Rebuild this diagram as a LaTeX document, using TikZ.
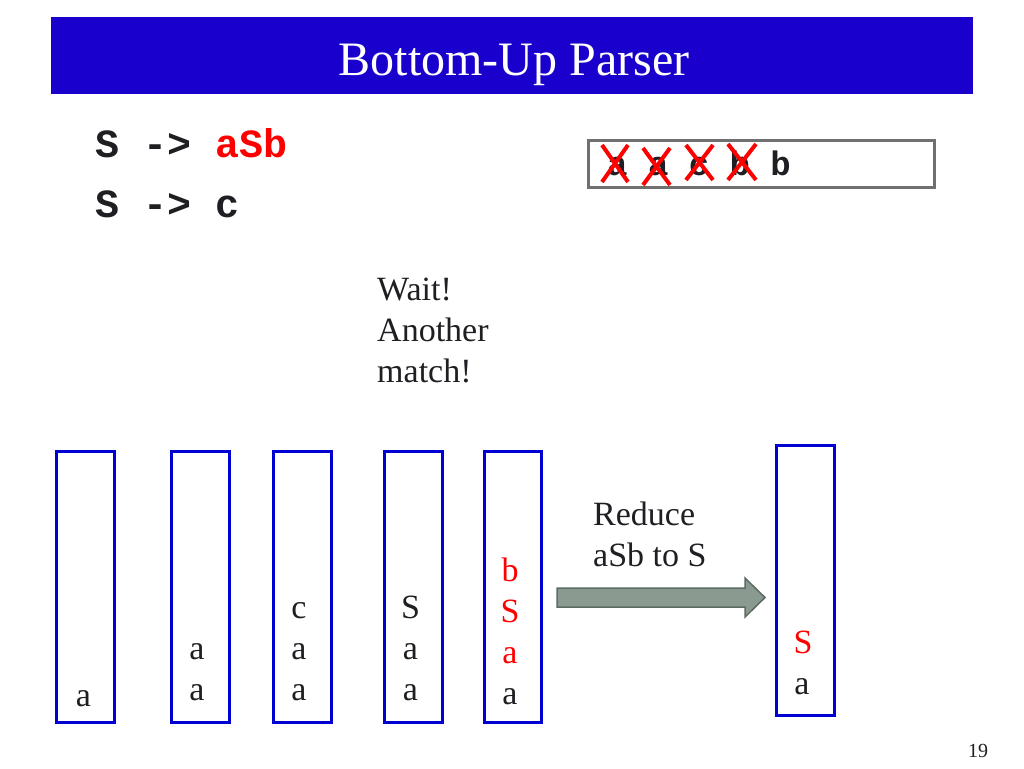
\documentclass[tikz,border=0pt]{standalone}
\usepackage{fontspec}
\setmainfont{Liberation Serif}
\setmonofont{Liberation Mono}
\definecolor{titleblue}{RGB}{26,0,204}
\definecolor{stackblue}{RGB}{0,0,210}
\definecolor{txt}{RGB}{30,30,35}
\definecolor{boxgray}{RGB}{112,112,112}
\definecolor{arrowfill}{RGB}{138,154,144}
\definecolor{arrowline}{RGB}{92,108,98}
\begin{document}
\begin{tikzpicture}[x=1pt,y=-1pt,
  stackbox/.style={draw=stackblue, line width=3pt, minimum width=58pt, minimum height=271pt, inner sep=0pt, outer sep=0pt},
  body/.style={font=\fontsize{34}{41}\selectfont, text=txt, inner sep=0pt},
  item/.style={body, anchor=base},
  redx/.style={draw=red, line width=4pt},
  gram/.style={font=\ttfamily\bfseries\fontsize{40}{48}\selectfont, text=txt, inner sep=0pt, anchor=base west}]
\useasboundingbox (0,0) rectangle (1024,768);
% title
\node[fill=titleblue, minimum width=922pt, minimum height=77pt, inner sep=0pt, anchor=north west] (bar) at (51,17) {};
\node[font=\fontsize{48}{56}\selectfont, text=white, inner sep=0pt, anchor=base] (title) at (514,75) {Bottom-Up Parser};
% grammar
\node[gram] (g1) at (95,157) {S -> \textcolor{red}{aSb}};
\node[gram] (g2) at (95,217) {S -> c};
% input
\node[draw=boxgray, line width=3pt, minimum width=346pt, minimum height=47pt, inner sep=0pt, anchor=north west] (input) at (586.5,138.5) {};
\node[font=\ttfamily\bfseries\fontsize{34}{41}\selectfont, text=txt, inner sep=0pt, anchor=base west] (inputtext) at (607,175) {a a c b b};
\draw[redx] (602,145) -- (628,182) (628,145) -- (602,182);
\draw[redx] (643,148) -- (670,185) (670,148) -- (643,185);
\draw[redx] (686,145) -- (713,180) (713,145) -- (686,180);
\draw[redx] (728,144) -- (756,180) (756,144) -- (728,180);
% remark
\node[body, align=left, anchor=north west] (wait) at (377,278) {Wait!\\Another\\match!};
% stacks
\node[stackbox] (s1) at (85.5,587) {};
\node[stackbox] (s2) at (200.5,587) {};
\node[stackbox] (s3) at (302.5,587) {};
\node[stackbox] (s4) at (413.5,587) {};
\node[stackbox, minimum width=57pt] (s5) at (513,587) {};
\node[stackbox, minimum height=270pt] (s6) at (805.5,580.5) {};
\node[item] (s1a) at (83.5,706) {a};
\node[item] (s2a) at (197,659) {a};
\node[item] (s2b) at (197,700) {a};
\node[item] (s3a) at (299,618) {c};
\node[item] (s3b) at (299,659) {a};
\node[item] (s3c) at (299,700) {a};
\node[item] (s4a) at (410.5,618) {S};
\node[item] (s4b) at (410.5,659) {a};
\node[item] (s4c) at (410.5,700) {a};
\node[item, text=red] (s5a) at (510,581) {b};
\node[item, text=red] (s5b) at (510,622) {S};
\node[item, text=red] (s5c) at (510,663) {a};
\node[item] (s5d) at (510,704) {a};
\node[item, text=red] (s6a) at (803,653) {S};
\node[item] (s6b) at (802,694) {a};
% reduce arrow
\node[body, align=left, anchor=north west] (reduce) at (593,502) {Reduce\\aSb to S};
\draw[fill=arrowfill, draw=arrowline, line width=1.5pt] (557,588) -- (745,588) -- (745,578) -- (765,597.5) -- (745,617) -- (745,607) -- (557,607) -- cycle;
% page number
\node[font=\fontsize{20}{24}\selectfont, text=txt, inner sep=0pt, anchor=base] (page) at (978,757) {19};
\end{tikzpicture}
\end{document}
